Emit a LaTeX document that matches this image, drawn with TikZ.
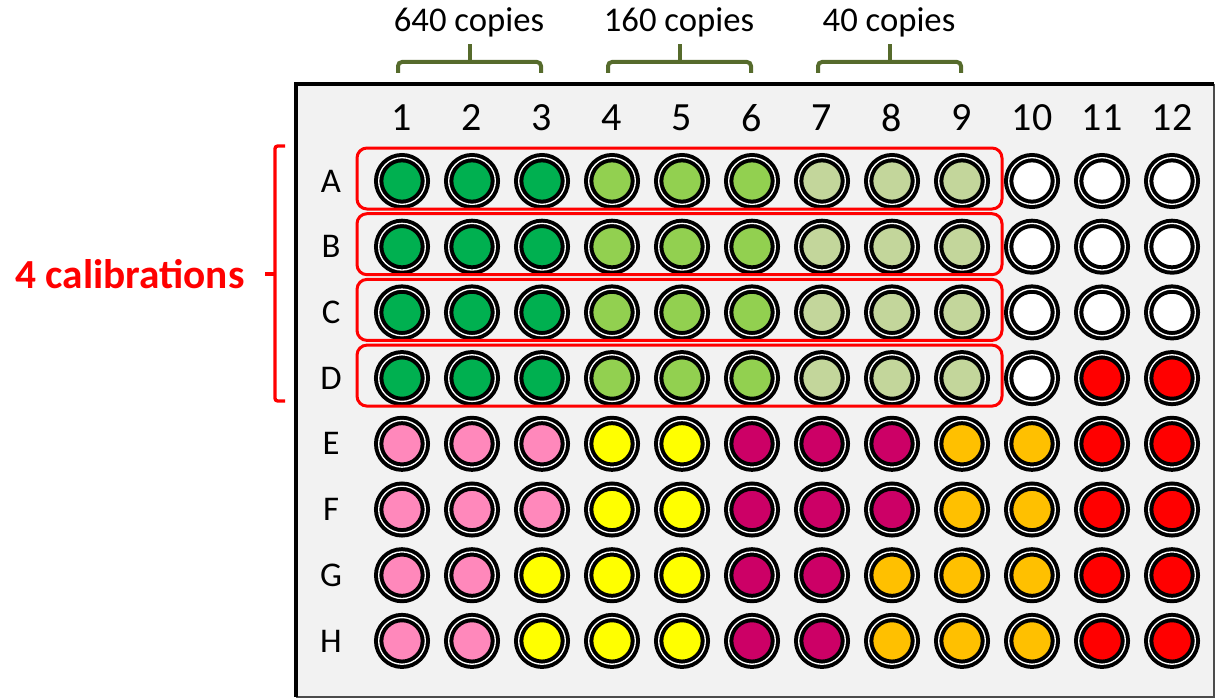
\documentclass[tikz,border=0pt]{standalone}
\usepackage{fontspec}
\setmainfont{Carlito}
\usetikzlibrary{calc}

\definecolor{dg}{HTML}{00B050}
\definecolor{lg}{HTML}{92D050}
\definecolor{pg}{HTML}{C3D69B}
\definecolor{pk}{HTML}{FF88BB}
\definecolor{ye}{HTML}{FFFF00}
\definecolor{mg}{HTML}{CC0066}
\definecolor{og}{HTML}{FFC000}
\definecolor{rd}{HTML}{FF0000}
\definecolor{wh}{HTML}{FFFFFF}
\definecolor{olivebrace}{HTML}{566B2C}
\definecolor{platebg}{HTML}{F2F2F2}

\begin{document}
\begin{tikzpicture}[x=0.75pt, y=-0.75pt,
  well/.style={circle, draw=black, line width=3pt, double=white,
    double distance=1pt, minimum size=35pt, inner sep=0pt},
  calibbox/.style={draw=red, line width=2.25pt, rounded corners=7.5pt},
  brace/.style={draw=olivebrace, line width=3pt, rounded corners=3pt},
  redbrace/.style={draw=red, line width=2.5pt, rounded corners=2pt},
  collabel/.style={font=\fontsize{30}{34}\selectfont},
  rowlabel/.style={font=\fontsize{26}{30}\selectfont},
  copies/.style={font=\fontsize{26}{30}\selectfont}]
  \useasboundingbox (0,0) rectangle (1216,699);

  % plate
  \fill[platebg] (296,84) rectangle (1214,697);
  \draw[gray!60!black, line width=1pt] (1214,84) -- (1214,697) -- (296,697);
  \draw[line width=3pt] (296,697) -- (296,84) -- (1214,84);

  % column and row labels
  \foreach \i in {1,...,12}
    \node[collabel] (c\i) at ({402+70*(\i-1)},118) {\i};
  \foreach \r [count=\j] in {A,B,C,D,E,F,G,H}
    \node[rowlabel] (r\r) at (331,{181+65.7*(\j-1)}) {\r};

  % wells
  \foreach \r/\cols in {
      A/{dg,dg,dg,lg,lg,lg,pg,pg,pg,wh,wh,wh},
      B/{dg,dg,dg,lg,lg,lg,pg,pg,pg,wh,wh,wh},
      C/{dg,dg,dg,lg,lg,lg,pg,pg,pg,wh,wh,wh},
      D/{dg,dg,dg,lg,lg,lg,pg,pg,pg,wh,rd,rd},
      E/{pk,pk,pk,ye,ye,mg,mg,mg,og,og,rd,rd},
      F/{pk,pk,pk,ye,ye,mg,mg,mg,og,og,rd,rd},
      G/{pk,pk,ye,ye,ye,mg,mg,og,og,og,rd,rd},
      H/{pk,pk,ye,ye,ye,mg,mg,og,og,og,rd,rd}}
    \foreach \c [count=\i] in \cols
      \node[well, fill=\c] (\r\i) at (c\i |- r\r) {};

  % calibration rows
  \foreach \r in {A,B,C,D}
    \draw[calibbox] ($(\r1)+(-45,-33)$) rectangle ($(\r9)+(40,28)$);

  % dilutions
  \foreach \a/\m/\b/\t in {1/2/3/640, 4/5/6/160, 7/8/9/40} {
    \draw[brace] ($(c\a |- 0,73)+(-4,0)$) -- ($(c\a |- 0,62)+(-4,0)$)
      -- ($(c\b |- 0,62)+(-1,0)$) -- ($(c\b |- 0,73)+(-1,0)$);
    \draw[brace] ($(c\m |- 0,62)+(-2,0)$) -- ($(c\m |- 0,44)+(-2,0)$);
    \node[copies] (cp\t) at ($(c\m |- 0,22)+(-3,0)$) {\t\ copies};
  }

  % 4 calibrations
  \draw[redbrace] (285,146) -- (275,146) -- (275,401) -- (285,401);
  \draw[redbrace] (275,274) -- (265,274);
  \node[text=red, font=\fontsize{31}{35}\selectfont\bfseries] (ncal) at (130,274) {4 calibrations};
\end{tikzpicture}
\end{document}
